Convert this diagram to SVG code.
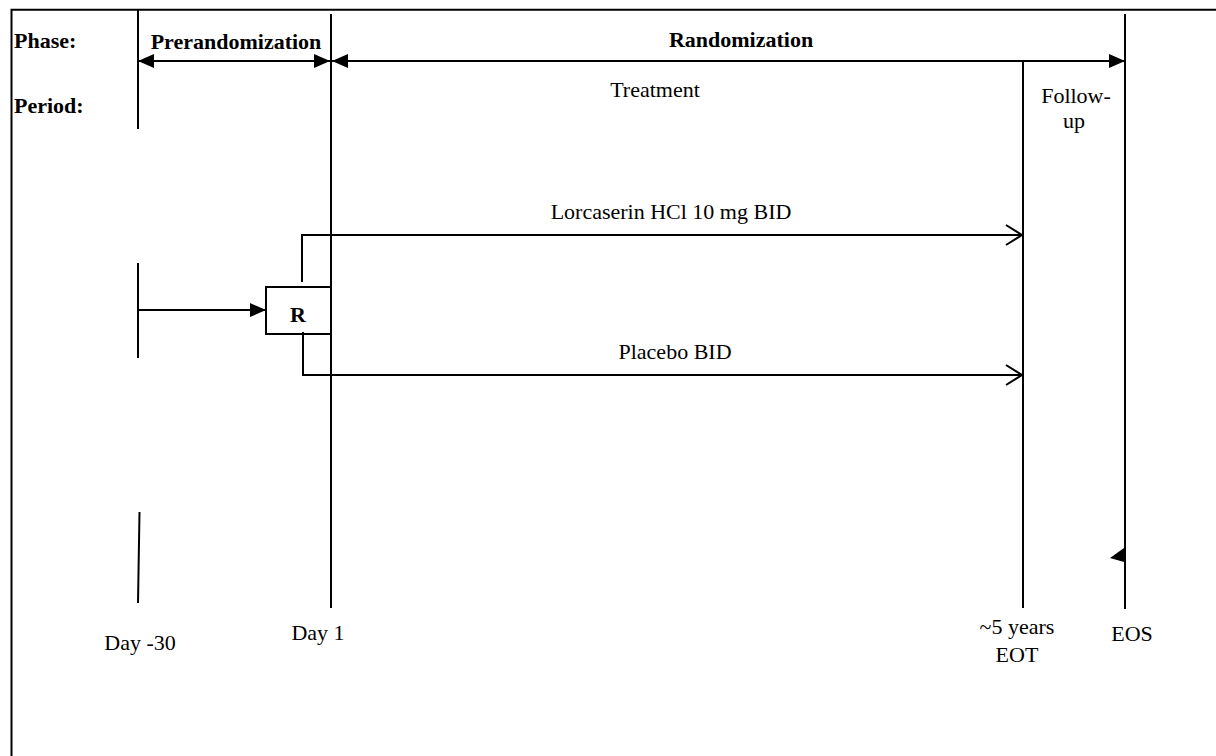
<svg xmlns="http://www.w3.org/2000/svg" width="1216" height="756" viewBox="0 0 1216 756">
<style>
.ln{stroke:#000;stroke-width:2;fill:none}
.t{font-family:"Liberation Serif","Times New Roman",serif;font-size:22px;fill:#000}
.b{font-weight:bold}
</style>
<defs>
<marker id="fa" viewBox="0 0 16 14" refX="16" refY="7" markerWidth="16" markerHeight="14" markerUnits="userSpaceOnUse" orient="auto-start-reverse">
<path d="M0,0 L16,7 L0,14 Z" fill="#000"/>
</marker>
<marker id="oa" viewBox="0 0 18 22" refX="17" refY="11" markerWidth="18" markerHeight="22" markerUnits="userSpaceOnUse" orient="auto">
<path d="M1,1 L17,11 L1,21" fill="none" stroke="#000" stroke-width="2"/>
</marker>
</defs>
<rect width="1216" height="756" fill="#fff"/>
<g id="frame">
<path class="ln" d="M11.5,756 V9.7 H1216"/>
</g>
<g id="labels">
<text class="t b" x="14" y="48">Phase:</text>
<text class="t b" x="14" y="113">Period:</text>
<text class="t b" x="236" y="49" text-anchor="middle">Prerandomization</text>
<text class="t b" x="741" y="47" text-anchor="middle">Randomization</text>
<text class="t" x="655" y="97" text-anchor="middle">Treatment</text>
<text class="t" x="1076" y="103" text-anchor="middle">Follow-</text>
<text class="t" x="1074" y="128" text-anchor="middle">up</text>
<text class="t" x="671" y="219" text-anchor="middle">Lorcaserin HCl 10 mg BID</text>
<text class="t" x="675" y="359" text-anchor="middle">Placebo BID</text>
<text class="t" x="140" y="650" text-anchor="middle">Day -30</text>
<text class="t" x="318" y="640" text-anchor="middle">Day 1</text>
<text class="t" x="1017" y="634" text-anchor="middle">~5 years</text>
<text class="t" x="1017" y="662" text-anchor="middle">EOT</text>
<text class="t" x="1132" y="641" text-anchor="middle">EOS</text>
</g>
<g id="R">
<rect class="ln" x="266" y="287" width="65" height="47"/>
<text class="t b" x="298" y="322" text-anchor="middle">R</text>
</g>
<g id="connectors">
<line class="ln" x1="138" y1="10" x2="138" y2="129"/>
<line class="ln" x1="331" y1="14" x2="331" y2="608"/>
<line class="ln" x1="1125" y1="14" x2="1125" y2="609"/>
<line class="ln" x1="1023" y1="61" x2="1023" y2="608"/>
<line class="ln" x1="138" y1="61" x2="330" y2="61" marker-start="url(#fa)" marker-end="url(#fa)"/>
<line class="ln" x1="332" y1="61" x2="1125" y2="61" marker-start="url(#fa)" marker-end="url(#fa)"/>
<line class="ln" x1="138" y1="263" x2="138" y2="358"/>
<line class="ln" x1="138" y1="310" x2="266" y2="310" marker-end="url(#fa)"/>
<polyline class="ln" points="302,282 302,235 1022,235" marker-end="url(#oa)"/>
<polyline class="ln" points="303,332 303,375 1022,375" marker-end="url(#oa)"/>
<line class="ln" x1="139.5" y1="512" x2="138" y2="603"/>
<polygon points="1110,558 1124,548 1124,562" fill="#000"/>
</g>
</svg>
